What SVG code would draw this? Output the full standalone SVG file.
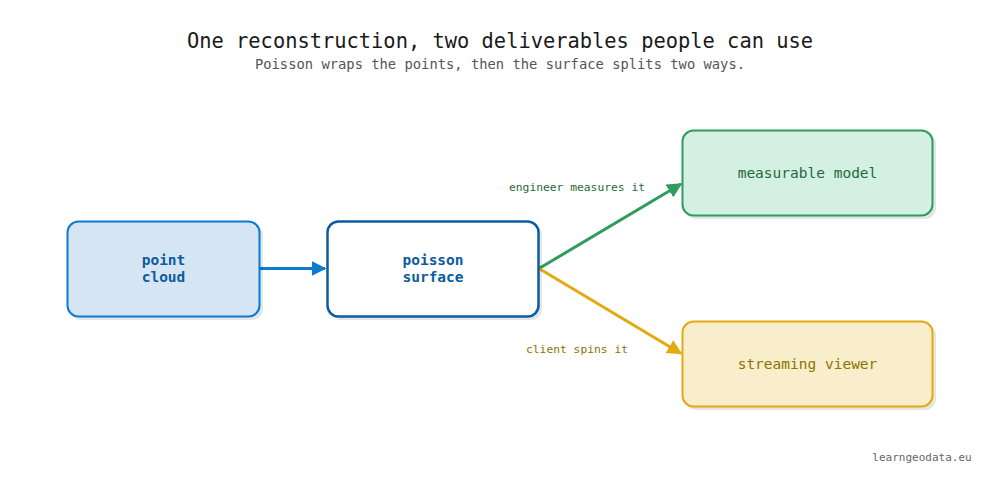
<svg xmlns="http://www.w3.org/2000/svg" width="1000" height="489" viewBox="0 0 1000 489">
<style>
text{font-family:"DejaVu Sans Mono","Liberation Mono",monospace;text-anchor:middle}
.title{font-size:20.4px;fill:#1a1a1a}
.sub{font-size:13.8px;fill:#555}
.nl{font-size:14.5px;font-weight:bold}
.el{font-size:11.3px}
.shadow{fill:#000;opacity:0.1}
</style>
<defs>
<marker id="ab" viewBox="0 0 10 10" refX="9" refY="5" markerWidth="5" markerHeight="5" orient="auto" markerUnits="strokeWidth"><path d="M0,0L10,5L0,10z" fill="#0b7ad1"/></marker>
<marker id="ag" viewBox="0 0 10 10" refX="9" refY="5" markerWidth="5" markerHeight="5" orient="auto" markerUnits="strokeWidth"><path d="M0,0L10,5L0,10z" fill="#2e9c5d"/></marker>
<marker id="ay" viewBox="0 0 10 10" refX="9" refY="5" markerWidth="5" markerHeight="5" orient="auto" markerUnits="strokeWidth"><path d="M0,0L10,5L0,10z" fill="#e3a90e"/></marker>
</defs>
<rect width="1000" height="489" fill="#fff"/>
<text class="title" x="500" y="48">One reconstruction, two deliverables people can use</text>
<text class="sub" x="500" y="69">Poisson wraps the points, then the surface splits two ways.</text>

<g id="connectors" fill="none" stroke-width="3">
<line x1="260" y1="268.5" x2="325" y2="268.5" stroke="#0b7ad1" marker-end="url(#ab)"/>
<line x1="539" y1="268.5" x2="681" y2="184" stroke="#2e9c5d" marker-end="url(#ag)"/>
<line x1="539" y1="268.5" x2="681" y2="353.5" stroke="#e3a90e" marker-end="url(#ay)"/>
<text class="el" x="577" y="191" fill="#1d6b3b" stroke="none">engineer measures it</text>
<text class="el" x="577" y="353" fill="#8f7300" stroke="none">client spins it</text>
</g>

<g id="node-point-cloud">
<rect class="shadow" x="70" y="224" width="193" height="96" rx="11"/>
<rect x="67.5" y="221.5" width="192" height="95" rx="11" fill="#d6e5f4" stroke="#0b7ad1" stroke-width="2"/>
<text class="nl" x="163.5" y="265" fill="#0b5c9e">point</text>
<text class="nl" x="163.5" y="282" fill="#0b5c9e">cloud</text>
</g>

<g id="node-poisson-surface">
<rect class="shadow" x="330" y="224" width="212" height="96" rx="11"/>
<rect x="327.5" y="221.5" width="211" height="95" rx="11" fill="#fff" stroke="#0b5ca3" stroke-width="2.5"/>
<text class="nl" x="433" y="265" fill="#0b5c9e">poisson</text>
<text class="nl" x="433" y="282" fill="#0b5c9e">surface</text>
</g>

<g id="node-measurable-model">
<rect class="shadow" x="685" y="133" width="251" height="86" rx="11"/>
<rect x="682.5" y="130.5" width="250" height="85" rx="11" fill="#d4f0e2" stroke="#2e9c5d" stroke-width="2"/>
<text class="nl" x="807.5" y="178" fill="#1d6b3b" style="font-weight:normal">measurable model</text>
</g>

<g id="node-streaming-viewer">
<rect class="shadow" x="685" y="324" width="251" height="86" rx="11"/>
<rect x="682.5" y="321.5" width="250" height="85" rx="11" fill="#f8eecb" stroke="#e3a90e" stroke-width="2"/>
<text class="nl" x="807.5" y="369" fill="#8f7300" style="font-weight:normal">streaming viewer</text>
</g>

<text x="922" y="461" style="font-size:11px;fill:#666">learngeodata.eu</text>
</svg>
